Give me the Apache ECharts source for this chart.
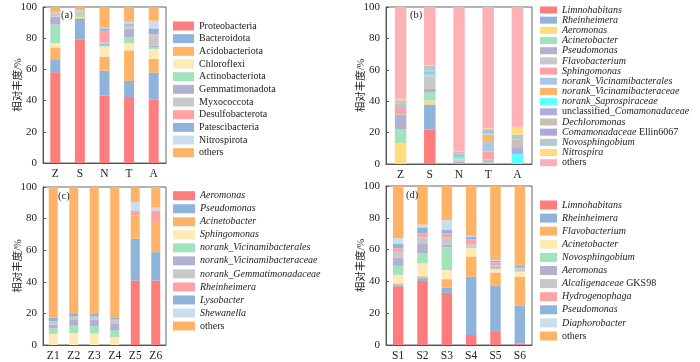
<!DOCTYPE html>
<html>
<head>
<meta charset="utf-8">
<script src="https://cdn.jsdelivr.net/npm/echarts@6/dist/echarts.min.js"></script>
<style>html,body{margin:0;padding:0;background:#fff}#c{width:700px;height:362px}</style>
</head>
<body>
<div id="c"></div>
<script>
// ---------- DATA ----------
const catsA = ['Z', 'S', 'N', 'T', 'A'];
const taxaA = ['Proteobacteria', 'Bacteroidota', 'Acidobacteriota', 'Chloroflexi', 'Actinobacteriota',
  'Gemmatimonadota', 'Myxococcota', 'Desulfobacterota', 'Patescibacteria', 'Nitrospirota', 'others'];
const valuesA = [
  [58.1, 79.0, 43.2, 42.3, 40.6],
  [7.9, 13.3, 16.0, 10.3, 17.3],
  [8.1, 0.6, 9.0, 19.6, 8.8],
  [2.8, 0.6, 6.4, 4.5, 6.4],
  [11.8, 2.6, 0.6, 3.9, 0.9],
  [5.1, 0.5, 1.3, 5.5, 1.2],
  [1.5, 0.5, 1.0, 1.7, 6.5],
  [0.5, 0.2, 7.3, 0.8, 0.8],
  [0.5, 0.2, 1.5, 0.9, 3.8],
  [0.3, 0.2, 0.4, 1.0, 4.9],
  [3.4, 2.3, 13.3, 9.5, 8.8]
];

const catsB = ['Z', 'S', 'N', 'T', 'A'];
const taxaB = ['Limnohabitans', 'Rheinheimera', 'Aeromonas', 'Acinetobacter', 'Pseudomonas', 'Flavobacterium',
  'Sphingomonas', 'norank_Vicinamibacterales', 'norank_Vicinamibacteraceae', 'norank_Saprospiraceae',
  'unclassified_Comamonadaceae', 'Dechloromonas', 'Comamonadaceae Ellin6067', 'Novosphingobium', 'Nitrospira', 'others'];
const valuesB = [
  [0, 21.9, 0.1, 0, 0],
  [0, 16.0, 0.2, 0.5, 0],
  [13.3, 2.5, 0.1, 0.2, 0.5],
  [9.0, 5.3, 0.2, 0.3, 0],
  [9.0, 2.1, 0.8, 0.9, 0],
  [0.5, 7.9, 0.7, 1.0, 0],
  [3.8, 0.3, 0.3, 5.0, 0],
  [2.8, 0.5, 0.4, 6.0, 0],
  [1.2, 0.2, 0.2, 4.9, 0],
  [0.2, 0.7, 1.0, 0.9, 5.9],
  [0.5, 1.1, 0.4, 0.8, 3.8],
  [0.4, 0.5, 2.0, 0.6, 5.1],
  [0.3, 0.5, 0.3, 0.6, 0.2],
  [0.2, 3.2, 1.3, 0.5, 3.3],
  [0.3, 0.2, 0.1, 0.7, 5.0],
  [58.5, 37.1, 91.9, 77.1, 76.2]
];

const catsC = ['Z1', 'Z2', 'Z3', 'Z4', 'Z5', 'Z6'];
const taxaC = ['Aeromonas', 'Pseudomonas', 'Acinetobacter', 'Sphingomonas', 'norank_Vicinamibacterales',
  'norank_Vicinamibacteraceae', 'norank_Gemmatimonadaceae', 'Rheinheimera', 'Lysobacter', 'Shewanella', 'others'];
const valuesC = [
  [0, 0, 0, 0, 40.8, 40.8],
  [0, 0, 0, 0, 26.4, 18.0],
  [0, 0, 0, 0, 14.8, 19.0],
  [7.0, 7.6, 7.2, 4.9, 0, 0],
  [3.6, 4.6, 4.7, 4.6, 0, 0],
  [2.2, 3.6, 4.0, 3.8, 0, 0],
  [1.9, 2.4, 2.3, 2.8, 0, 0],
  [0.3, 0, 0, 0, 2.8, 7.4],
  [2.5, 1.9, 1.9, 1.4, 0, 0],
  [0.2, 0, 0, 0, 5.7, 1.7],
  [82.3, 79.9, 79.9, 82.5, 9.5, 13.1]
];

const catsD = ['S1', 'S2', 'S3', 'S4', 'S5', 'S6'];
const taxaD = ['Limnohabitans', 'Rheinheimera', 'Flavobacterium', 'Acinetobacter', 'Novosphingobium', 'Aeromonas',
  'Alcaligenaceae GKS98', 'Hydrogenophaga', 'Pseudomonas', 'Diaphorobacter', 'others'];
const valuesD = [
  [36.5, 40.3, 32.8, 6.3, 8.2, 0.9],
  [1.1, 1.7, 3.3, 36.6, 29.0, 23.7],
  [1.0, 1.2, 5.3, 12.8, 8.4, 18.3],
  [5.5, 8.1, 5.7, 5.3, 1.9, 3.2],
  [5.7, 6.3, 14.3, 1.0, 0.6, 0.6],
  [5.2, 5.9, 1.6, 0.6, 1.3, 0.8],
  [3.6, 4.2, 4.7, 0.8, 0.8, 0.9],
  [2.3, 2.5, 2.5, 3.1, 1.7, 0.6],
  [2.6, 3.8, 2.1, 1.5, 1.1, 1.2],
  [3.7, 1.7, 6.3, 0.6, 0.4, 0.2],
  [32.8, 24.3, 21.4, 31.4, 46.6, 49.6]
];

const yTicks = [0, 20, 40, 60, 80, 100];
const yName = '相对丰度/%';
const panelLabels = ['(a)', '(b)', '(c)', '(d)'];

// ---------- STYLE ----------
const RED = '#FF7D7D', BLUE = '#8FB4DC', ORANGE = '#FFB366', LYEL = '#FFEAB5', GREEN = '#A2E2BC',
  LAV = '#B1B2D0', GRAY = '#C8C8C8', PINK = '#FFA2A4', LBLUE = '#CCDDF0';
const colorsA = [RED, BLUE, ORANGE, LYEL, GREEN, LAV, GRAY, PINK, BLUE, LBLUE, ORANGE];
const colorsB = [RED, BLUE, '#FFDC80', GREEN, LAV, GRAY, PINK, '#A9C8E6', ORANGE, '#5EFFFF', '#B0ACE0',
  '#C9BEBA', '#ABA8DE', '#B3CACA', '#FFDC80', '#FFB2B5'];
const colorsC = [RED, BLUE, ORANGE, LYEL, GREEN, LAV, GRAY, PINK, BLUE, LBLUE, ORANGE];
const colorsD = [RED, BLUE, ORANGE, LYEL, GREEN, LAV, GRAY, PINK, BLUE, LBLUE, ORANGE];

const SERIF = '"Liberation Serif", "Times New Roman", "Noto Sans CJK SC", serif';
const TXT = '#222';

const panels = [
  { key: 'a', cats: catsA, taxa: taxaA, vals: valuesA, colors: colorsA, italic: false,
    grid: { left: 43, top: 7, width: 123, height: 156 }, barWidth: 10,
    legend: { left: 173, top: 20.5, itemWidth: 21, itemHeight: 9, lh: 11, gap: 1.67 },
    label: { left: 61, top: 10 } },
  { key: 'b', cats: catsB, taxa: taxaB, vals: valuesB, colors: colorsB, italic: true,
    grid: { left: 386, top: 7, width: 146, height: 157 }, barWidth: 11.5,
    legend: { left: 540, top: 5, itemWidth: 17, itemHeight: 7, lh: 10, gap: 0.18 },
    label: { left: 410, top: 10 } },
  { key: 'c', cats: catsC, taxa: taxaC, vals: valuesC, colors: colorsC, italic: true,
    grid: { left: 43, top: 187, width: 123, height: 158 }, barWidth: 9,
    legend: { left: 173, top: 190.2, itemWidth: 22, itemHeight: 9, lh: 11, gap: 2.03 },
    label: { left: 58, top: 191 } },
  { key: 'd', cats: catsD, taxa: taxaD, vals: valuesD, colors: colorsD, italic: true,
    grid: { left: 386, top: 186, width: 146, height: 159 }, barWidth: 10.5,
    legend: { left: 540, top: 199.5, itemWidth: 17, itemHeight: 9, lh: 11, gap: 2.1 },
    label: { left: 406, top: 190 } }
];

function richName(name, italic) {
  if (!italic || name === 'others') return '{n|' + name + '}';
  if (name.indexOf('unclassified_') === 0) return '{n|unclassified_}{i|' + name.slice(13) + '}';
  const sp = name.indexOf(' ');
  if (sp > 0) return '{i|' + name.slice(0, sp) + '}{n| ' + name.slice(sp + 1) + '}';
  return '{i|' + name + '}';
}

const grids = [], xAxes = [], yAxes = [], series = [], legends = [], titles = [];
panels.forEach((p, pi) => {
  grids.push(Object.assign({ show: true, borderColor: '#666', borderWidth: 1, backgroundColor: 'transparent' }, p.grid));
  xAxes.push({
    type: 'category', gridIndex: pi, data: p.cats,
    axisLine: { lineStyle: { color: '#555', width: 1 } },
    axisTick: { show: false },
    axisLabel: { fontFamily: SERIF, fontSize: 11.5, color: TXT, margin: 5 }
  });
  yAxes.push({
    type: 'value', gridIndex: pi, min: yTicks[0], max: yTicks[yTicks.length - 1], interval: yTicks[1] - yTicks[0],
    name: yName, nameLocation: 'middle', nameGap: 20, nameMoveOverlap: false,
    nameTextStyle: { fontFamily: SERIF, fontSize: 10.5, color: TXT },
    axisLine: { show: true, lineStyle: { color: '#555', width: 1 } },
    axisTick: { show: true, inside: true, length: 3, lineStyle: { color: '#555' } },
    axisLabel: { fontFamily: SERIF, fontSize: 11, color: TXT, margin: 6 },
    splitLine: { show: false }
  });
  const names = [];
  p.taxa.forEach((t, ti) => {
    const nm = p.key + '|' + t;
    names.push(nm);
    series.push({
      type: 'bar', name: nm, xAxisIndex: pi, yAxisIndex: pi, stack: 'st' + p.key,
      barWidth: p.barWidth, data: p.vals[ti],
      itemStyle: { color: p.colors[ti] }, emphasis: { disabled: true }, animation: false
    });
  });
  const L = p.legend;
  legends.push({
    data: names, orient: 'vertical', left: L.left, top: L.top, padding: 0,
    itemWidth: L.itemWidth, itemHeight: L.itemHeight, itemGap: L.gap, icon: 'rect',
    selectedMode: false,
    formatter: (n) => richName(n.slice(2), p.italic),
    textStyle: {
      fontFamily: SERIF, fontSize: 10, color: TXT, lineHeight: L.lh, padding: [0, 0, 0, 0],
      rich: {
        n: { fontFamily: SERIF, fontSize: 10, color: TXT, lineHeight: L.lh },
        i: { fontFamily: SERIF, fontSize: 10, color: TXT, lineHeight: L.lh, fontStyle: 'italic' }
      }
    }
  });
  titles.push({
    text: panelLabels[pi], left: p.label.left, top: p.label.top, padding: 0,
    textStyle: { fontFamily: SERIF, fontSize: 10.5, fontWeight: 'normal', color: TXT }
  });
});

const chart = echarts.init(document.getElementById('c'), null, { renderer: 'canvas' });
chart.setOption({
  animation: false,
  backgroundColor: '#fff',
  title: titles,
  grid: grids, xAxis: xAxes, yAxis: yAxes, legend: legends, series: series
});
</script>
</body>
</html>
